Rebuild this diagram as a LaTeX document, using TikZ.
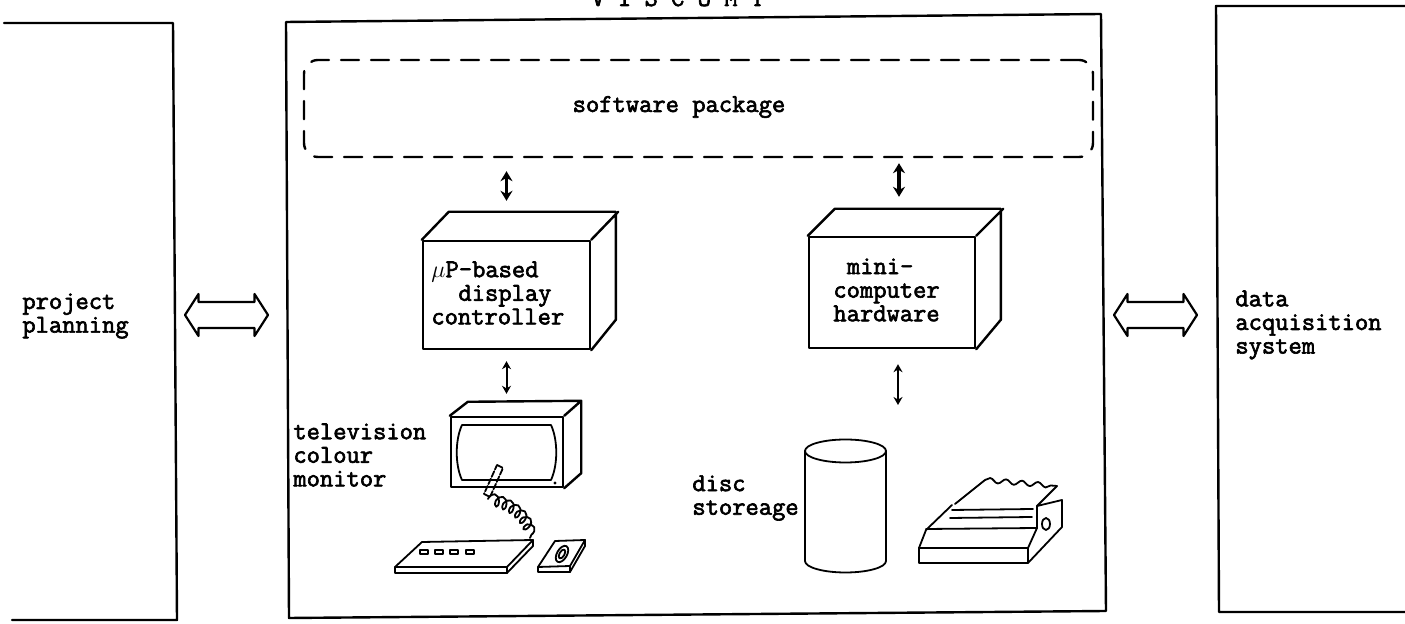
\documentclass[tikz,border=0pt]{standalone}
\usepackage{fontspec}
\newfontfamily\typewriter{Latin Modern Mono}[FakeBold=2.5]
\usetikzlibrary{arrows.meta,decorations.pathmorphing,calc}
\begin{document}
\begin{tikzpicture}[x=0.5pt,y=-0.5pt,line join=round,line cap=round,
  txt/.style={font=\typewriter\fontsize{12.9pt}{11.8pt}\selectfont,align=left,inner sep=0pt},
  frame/.style={line width=1.2pt},
  face/.style={draw,line width=1.2pt,inner sep=0pt},
  sketch/.style={line width=0.9pt},
  bigarrow/.style={line width=1.6pt,{Stealth[length=5pt,width=6pt]}-{Stealth[length=5pt,width=6pt]}},
  smallarrow/.style={line width=1pt,{Stealth[length=4pt,width=4.5pt]}-{Stealth[length=4pt,width=4.5pt]}},
  swbox/.style={draw,line width=1.2pt,dash pattern=on 9pt off 6pt,rounded corners=7pt,
    minimum width=394.5pt,minimum height=48.5pt,inner sep=0pt},
  hollowarrow/.pic={\draw[line width=1.1pt] (-41.5,0) -- (-28,-21) -- (-28,-13) -- (28,-13) -- (28,-21)
    -- (41.5,0) -- (28,21) -- (28,13) -- (-28,13) -- (-28,21) -- cycle;}]

\useasboundingbox (0,0) rectangle (1405,624);
\fill[white] (0,0) rectangle (1405,624);

% heading over the system frame (its upper part runs off the page)
\node[txt,anchor=base west] (title) at (591,6) {V I S C O M T};

% system frame
\draw[frame] (286,22) -- (1101,14) -- (1106,611) -- (289,618) -- cycle;

% neighbouring blocks
\draw[frame] (4,23) -- (173,23) -- (177,620) -- (12,620);
\node[txt,anchor=west] (plan) at (22,316) {project\\planning};
\draw[frame] (1405,6) -- (1216,6) -- (1219,612) -- (1405,612);
\node[txt,anchor=west] (daq) at (1235,325) {data\\acquisition\\system};

% two-way links to the neighbours
\pic at (226.5,315) {hollowarrow};
\pic at (1155.5,315) {hollowarrow};

% software package
\node[swbox] (sw) at (698.5,108.5) {};
\node[txt] (swlabel) at (679,107) {software package};

% display controller cabinet
\node[face,minimum width=83.5pt,minimum height=54pt] (mup) at (506.5,295) {};
\draw[frame] (mup.north west) -- ++(27,-28) -- ++(167,0) -- ++(0,108) -- (mup.south east)
  (mup.north east) -- ++(27,-28);
\node[txt,anchor=west] (muptext) at (431,293) {$\mu$P-based\\\hspace*{1.05em}display\\controller};

% minicomputer cabinet
\node[face,minimum width=83pt,minimum height=55.5pt] (mini) at (892,292.5) {};
\draw[frame] (mini.north west) -- ++(27,-27) -- ++(166,0) -- ++(0,111) -- (mini.south east)
  (mini.north east) -- ++(27,-27);
\node[txt,anchor=west] (minitext) at (833,290) {\hspace*{0.525em}mini-\\computer\\hardware};

% colour monitor
\node[face,minimum width=56pt,minimum height=35pt] (tv) at (507,452) {};
\draw[frame] (tv.north west) -- ++(18,-14) -- ($(tv.north east)+(17,-15)$) -- ($(tv.south east)+(17,-15)$)
  -- (tv.south east) (tv.north east) -- ++(17,-15);
\draw[sketch] (462,425) -- (551,425) .. controls (558,440) and (558,465) .. (551,480)
  -- (462,480) .. controls (455,465) and (455,440) .. (462,425) -- cycle;
\fill (555,483) circle[radius=1.6];
\node[txt,anchor=west] (tvlbl) at (293,455) {television\\colour\\monitor};

% light pen with coiled lead
\draw[sketch,dash pattern=on 3pt off 1pt] (497,465) -- (503,468) -- (490,497) -- (484,494) -- cycle;
\draw[sketch,decorate,decoration={coil,aspect=0.6,segment length=4pt,amplitude=3pt}]
  (488,499) .. controls (508,503) and (528,515) .. (530,538);

% keyboard
\draw[sketch] (422,542) -- (533,540) -- (507,567) -- (395,567) -- cycle;
\draw[sketch] (395,567) -- (395,573) -- (507,573) -- (533,546) -- (533,540);
\draw[sketch] (507,567) -- (507,573);
\foreach \kx in {420,435,450,466} \draw[line width=0.6pt] (\kx,550) rectangle ++(8,4);

% cursor puck
\draw[sketch] (555,541) -- (585,540) -- (570,566) -- (538,567) -- cycle;
\draw[sketch] (538,567) -- (538,572) -- (570,572) -- (585,546) -- (585,540);
\draw[sketch] (570,566) -- (570,572);
\draw[sketch,rotate around={60:(562,554)}] (562,554) ellipse[x radius=9,y radius=5];
\draw[sketch,rotate around={60:(562,554)}] (562,554) ellipse[x radius=5,y radius=2.5];

% disc store
\draw[sketch] (845.5,451) ellipse[x radius=40.5,y radius=11.5];
\draw[sketch] (805,451) -- (805,561) arc[start angle=180,end angle=0,x radius=40.5,y radius=11.5] -- (886,451);
\node[txt,anchor=west] (disclbl) at (692,498) {disc\\storeage};

% line printer
\draw[sketch] (919,548) rectangle (1028,563);
\draw[sketch] (919,548) -- (926,530) -- (952,505);
\draw[sketch] (926,529) -- (1037,528);
\draw[sketch] (952,510) -- (1033,509) (950,518) -- (1032,517);
\draw[sketch] (1037,506) -- (1062,500) -- (1062,527) -- (1028,563);
\draw[sketch] (1037,506) -- (1037,528) -- (1028,548);
\draw[sketch] (1046,524) ellipse[x radius=4,y radius=6];
\draw[sketch] (955,504) -- (985,480);
\draw[sketch,decorate,decoration={snake,amplitude=1.2pt,segment length=8pt}] (985,480) -- (1057,486);
\draw[sketch] (1057,486) -- (1037,506);

% data paths
\coordinate (periph) at (898,405);
\draw[bigarrow,shorten <=6.5pt,shorten >=19.5pt] (sw.south -| mup.north) -- (mup.north);
\draw[bigarrow,shorten <=2.5pt,shorten >=19.5pt] ($(sw.south -| mini.north)+(7,0)$) -- ($(mini.north)+(7,0)$);
\draw[smallarrow,shorten <=5.5pt,shorten >=11pt] (mup.south) -- (mup.south |- tv.north);
\draw[smallarrow,shorten <=7.5pt] ($(mini.south)+(6,0)$) -- (periph);
\end{tikzpicture}
\end{document}
